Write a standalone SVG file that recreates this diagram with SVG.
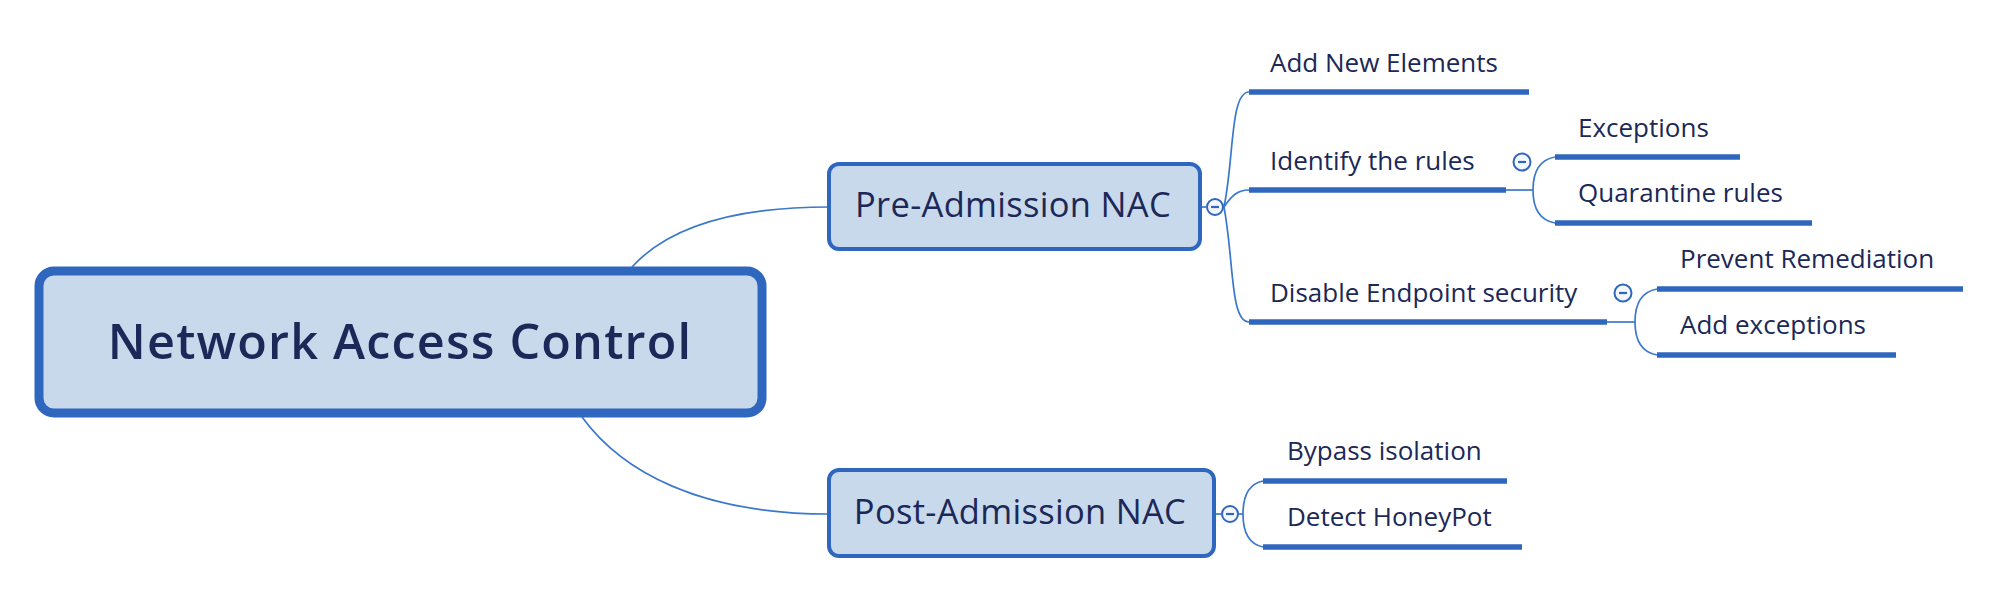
<svg xmlns="http://www.w3.org/2000/svg" width="1999" height="591" viewBox="0 0 1999 591">
<style>
.box{fill:#c9d9ec;stroke:#2f67bf}
.t{font-family:"Open Sans","Noto Sans","Liberation Sans",sans-serif;fill:#1c2857}
.sub{font-size:26px}
.bar{stroke:#2f67bf;stroke-width:5.5;fill:none}
.thin{stroke:#3a78cc;stroke-width:1.7;fill:none}
.tog circle{fill:#f4f8fd;stroke:#2f67bf;stroke-width:2}
.tog line{stroke:#2f67bf;stroke-width:2.2}
</style>
<rect width="1999" height="591" fill="#ffffff"/>
<g id="connectors">
<path class="thin" d="M632,267 C670,225 740,207 829,207"/>
<path class="thin" d="M582,417 C622,472 700,514 829,514"/>
<path class="thin" d="M1201,207 L1206,207"/>
<path class="thin" d="M1224,207 C1234,160 1230,92 1249,92"/>
<path class="thin" d="M1224,207 C1232,195 1238,190 1249,190"/>
<path class="thin" d="M1224,207 C1234,260 1230,322 1249,322"/>
<path class="thin" d="M1506,190 L1533,190"/>
<path class="thin" d="M1555,157 C1538,160 1533,175 1533,190 C1533,205 1538,220 1555,223"/>
<path class="thin" d="M1607,322 L1635,322"/>
<path class="thin" d="M1657,289 C1640,292 1635,307 1635,322 C1635,337 1640,352 1657,355"/>
<path class="thin" d="M1215,514 L1221,514"/>
<path class="thin" d="M1239,514 L1243,514"/>
<path class="thin" d="M1263,481 C1248,484 1243,498 1243,514 C1243,530 1248,544 1263,547"/>
<path class="bar" d="M1249,92 H1529"/>
<path class="bar" d="M1249,190 H1506"/>
<path class="bar" d="M1249,322 H1607"/>
<path class="bar" d="M1555,157 H1740"/>
<path class="bar" d="M1555,223 H1812"/>
<path class="bar" d="M1657,289 H1963"/>
<path class="bar" d="M1657,355 H1896"/>
<path class="bar" d="M1263,481 H1507"/>
<path class="bar" d="M1263,547 H1522"/>
</g>
<g id="root">
<rect class="box" x="39" y="271" width="723" height="142" rx="15" stroke-width="9"/>
<text class="t" x="400" y="359" text-anchor="middle" font-size="48.5" font-weight="600" letter-spacing="1.2">Network Access Control</text>
</g>
<g id="pre-admission">
<rect class="box" x="829" y="164" width="371" height="85" rx="10" stroke-width="4"/>
<text class="t" x="1013" y="217" text-anchor="middle" font-size="34.5" letter-spacing="0.3">Pre-Admission NAC</text>
<g class="tog"><circle cx="1215" cy="207" r="8"/><line x1="1211" y1="207" x2="1219" y2="207"/></g>
</g>
<g id="post-admission">
<rect class="box" x="829" y="470" width="385" height="86" rx="10" stroke-width="4"/>
<text class="t" x="1020" y="524" text-anchor="middle" font-size="34.5" letter-spacing="0.3">Post-Admission NAC</text>
<g class="tog"><circle cx="1230" cy="514" r="8"/><line x1="1226" y1="514" x2="1234" y2="514"/></g>
</g>
<g id="add-new-elements"><text class="t sub" x="1270" y="72">Add New Elements</text></g>
<g id="identify-rules">
<text class="t sub" x="1270" y="170">Identify the rules</text>
<g class="tog"><circle cx="1522" cy="162" r="8.5"/><line x1="1518" y1="162" x2="1526" y2="162"/></g>
</g>
<g id="exceptions"><text class="t sub" x="1578" y="137">Exceptions</text></g>
<g id="quarantine-rules"><text class="t sub" x="1578" y="202">Quarantine rules</text></g>
<g id="disable-endpoint">
<text class="t sub" x="1270" y="302">Disable Endpoint security</text>
<g class="tog"><circle cx="1623" cy="293" r="8.5"/><line x1="1619" y1="293" x2="1627" y2="293"/></g>
</g>
<g id="prevent-remediation"><text class="t sub" x="1680" y="268">Prevent Remediation</text></g>
<g id="add-exceptions"><text class="t sub" x="1680" y="334">Add exceptions</text></g>
<g id="bypass-isolation"><text class="t sub" x="1287" y="460">Bypass isolation</text></g>
<g id="detect-honeypot"><text class="t sub" x="1287" y="526">Detect HoneyPot</text></g>
</svg>
